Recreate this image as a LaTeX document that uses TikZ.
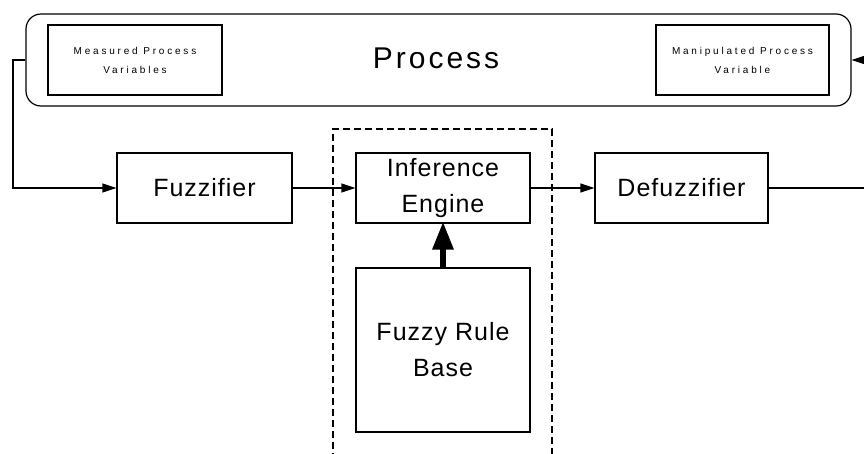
\documentclass[tikz,border=0pt]{standalone}
\usepackage{fontspec}
\setmainfont{Liberation Sans}
\newfontfamily\bigsp[LetterSpace=10]{Liberation Sans}
\newfontfamily\midsp[LetterSpace=4]{Liberation Sans}
\newfontfamily\smallsp[LetterSpace=28]{Liberation Sans}
\usetikzlibrary{arrows.meta}
\begin{document}
\begin{tikzpicture}[x=1pt,y=-1pt,
  line width=1.2pt,
  blk/.style={draw, rectangle, minimum width=174pt, minimum height=70pt, inner sep=0pt, align=center,
    font=\midsp\fontsize{25}{36}\selectfont},
  smallbox/.style={draw, rectangle, minimum width=174pt, minimum height=70pt, inner sep=0pt, align=center,
    font=\smallsp\fontsize{10}{19}\selectfont},
  thin arrow/.style={-{Triangle[length=14pt,width=9pt]}},
  thick arrow/.style={line width=6pt,-{Triangle[length=28pt,width=20pt]}},
  dashbox/.style={dash pattern=on 7pt off 4pt, line width=1.1pt}
]
\useasboundingbox (0,0) rectangle (864,453);
% Process
\node[draw, rounded corners=15pt, minimum width=825pt, minimum height=92pt, inner sep=0pt] (process) at (438.5,60) {};
\node[font=\bigsp\fontsize{30}{36}\selectfont] (ptext) at (436,58) {Process};
\node[smallbox] (meas) at (135,60) {Measured Process\\Variables};
\node[smallbox, minimum width=173pt] (manip) at (742.5,60) {Manipulated Process\\Variable};
% blocks
\node[blk, minimum width=175pt] (fuzz) at (204.5,188) {Fuzzifier};
\node[blk] (inf) at (443,188) {Inference\\Engine};
\node[blk, minimum width=173pt] (defuzz) at (681.5,188) {Defuzzifier};
\node[blk, minimum height=164pt] (rule) at (443,350) {Fuzzy Rule\\Base};
% dashed enclosure
\coordinate (dbl) at (333,460);
\coordinate (dtl) at (333,129);
\coordinate (dtr) at (552,129);
\coordinate (dbr) at (552,460);
\draw[dashbox] (dbl) -- (dtl) -- (dtr) -- (dbr);
% connectors
\coordinate (fbl) at (13,60);
\coordinate (fbb) at (13,188);
\coordinate (outR) at (866,188);
\coordinate (inR) at (866,60);
\draw[thin arrow] (process.west) -- (fbl) -- (fbb) -- (fuzz.west);
\draw[thin arrow] (fuzz.east) -- (inf.west);
\draw[thin arrow] (inf.east) -- (defuzz.west);
\draw (defuzz.east) -- (outR);
\draw[thin arrow] (inR) -- (process.east);
\draw[thick arrow] (rule.north) -- ([yshift=2pt]inf.south);
\end{tikzpicture}
\end{document}
